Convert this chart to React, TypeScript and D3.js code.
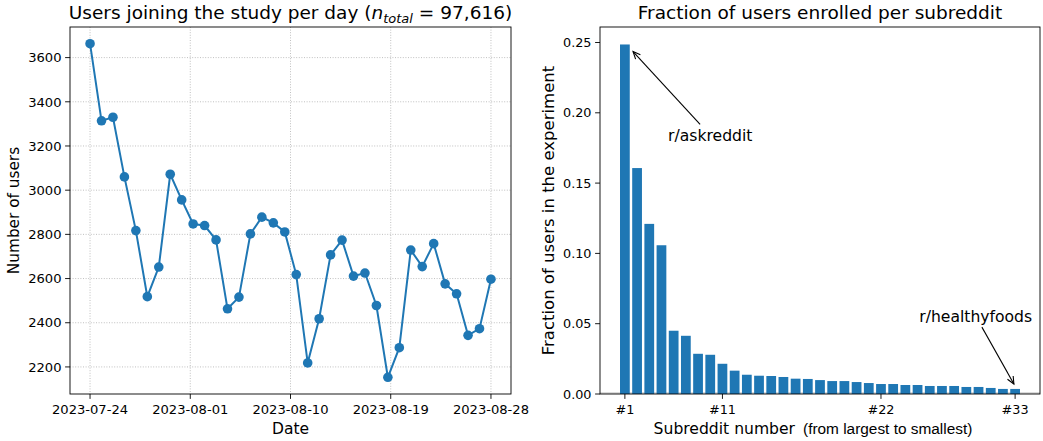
import React from "react";
import * as d3 from "d3";

// ---------------- data ----------------
const startDate = "2023-07-24";
const dailyUsers = [
  3663, 3314, 3330, 3060, 2817, 2518, 2652, 3072, 2956, 2847, 2840, 2775,
  2463, 2516, 2802, 2878, 2852, 2811, 2618, 2218, 2418, 2707, 2774, 2611,
  2625, 2478, 2153, 2287, 2729, 2654, 2758, 2576, 2531, 2343, 2373, 2597,
];
const totalUsersLabel = "97,616";
const userTicks = [2200, 2400, 2600, 2800, 3000, 3200, 3400, 3600];
const dateTickCount = 5;

const subredditFractions = [
  0.2486, 0.1607, 0.121, 0.1058, 0.045, 0.0414, 0.0286, 0.0279, 0.0215,
  0.0166, 0.0137, 0.013, 0.0128, 0.0121, 0.0109, 0.0107, 0.0099, 0.0092,
  0.0092, 0.0085, 0.0078, 0.0071, 0.0071, 0.0064, 0.0064, 0.0057, 0.0057,
  0.0057, 0.005, 0.005, 0.0043, 0.0036, 0.0036,
];
const subredditTickIndex = [0, 8, 21, 32];
const subredditTickLabels = ["#1", "#11", "#22", "#33"];
const fractionTicks = [0, 0.05, 0.1, 0.15, 0.2, 0.25];

const annotationLabels = ["r/askreddit", "r/healthyfoods"];
const annotationTextX = [7.0, 28.77];
const annotationTextY = [0.184, 0.0554];
const annotationTipX = [0.67, 31.9];
const annotationTipY = [0.2436, 0.0071];

// ---------------- layout ----------------
const W = 1043;
const H = 441;
const FONT = "DejaVu Sans, sans-serif";
const BLUE = "#1f77b4";

const LP = { left: 70, right: 511, top: 27, bottom: 394 };
const RP = { left: 600, right: 1040, top: 27, bottom: 394 };

function LeftChart() {
  const n = dailyUsers.length;
  const span = n - 1;
  const x = d3
    .scaleLinear()
    .domain([-0.05 * span, span * 1.05])
    .range([LP.left, LP.right]);
  const [mn, mx] = d3.extent(dailyUsers) as [number, number];
  const pad = (mx - mn) * 0.05;
  const y = d3
    .scaleLinear()
    .domain([mn - pad, mx + pad])
    .range([LP.bottom, LP.top]);

  const start = d3.utcParse("%Y-%m-%d")(startDate)!;
  const fmt = d3.utcFormat("%Y-%m-%d");
  const dateTicks = d3.range(dateTickCount).map((i) => (i * span) / (dateTickCount - 1));

  const line = d3
    .line<number>()
    .x((_, i) => x(i))
    .y((d) => y(d));

  return (
    <g>
      {dateTicks.map((t, i) => (
        <line
          key={"gx" + i}
          x1={x(t)}
          x2={x(t)}
          y1={LP.top}
          y2={LP.bottom}
          stroke="#b0b0b0"
          strokeWidth={0.8}
          strokeDasharray="1,1.6"
        />
      ))}
      {userTicks.map((t, i) => (
        <line
          key={"gy" + i}
          x1={LP.left}
          x2={LP.right}
          y1={y(t)}
          y2={y(t)}
          stroke="#b0b0b0"
          strokeWidth={0.8}
          strokeDasharray="1,1.6"
        />
      ))}
      <path d={line(dailyUsers) || ""} fill="none" stroke={BLUE} strokeWidth={2} />
      {dailyUsers.map((d, i) => (
        <circle key={"p" + i} cx={x(i)} cy={y(d)} r={4.8} fill={BLUE} />
      ))}
      <rect
        x={LP.left}
        y={LP.top}
        width={LP.right - LP.left}
        height={LP.bottom - LP.top}
        fill="none"
        stroke="#000"
        strokeWidth={0.9}
      />
      {dateTicks.map((t, i) => (
        <g key={"xt" + i}>
          <line x1={x(t)} x2={x(t)} y1={LP.bottom} y2={LP.bottom + 4.9} stroke="#000" strokeWidth={0.9} />
          <text
            x={x(t)}
            y={LP.bottom + 20}
            textAnchor="middle"
            fontFamily={FONT}
            fontSize={13.1}
            fill="#000"
          >
            {fmt(d3.utcDay.offset(start, Math.floor(t)))}
          </text>
        </g>
      ))}
      {userTicks.map((t, i) => (
        <g key={"yt" + i}>
          <line x1={LP.left - 4.9} x2={LP.left} y1={y(t)} y2={y(t)} stroke="#000" strokeWidth={0.9} />
          <text
            x={LP.left - 8.5}
            y={y(t)}
            dy="0.36em"
            textAnchor="end"
            fontFamily={FONT}
            fontSize={13.1}
            fill="#000"
          >
            {t}
          </text>
        </g>
      ))}
      <text x={(LP.left + LP.right) / 2} y={434} textAnchor="middle" fontFamily={FONT} fontSize={15.5}>
        Date
      </text>
      <text
        transform={`translate(19,${(LP.top + LP.bottom) / 2}) rotate(-90)`}
        textAnchor="middle"
        fontFamily={FONT}
        fontSize={15.3}
      >
        Number of users
      </text>
      <text x={(LP.left + LP.right) / 2} y={19} textAnchor="middle" fontFamily={FONT} fontSize={18.5}>
        Users joining the study per day (
        <tspan fontStyle="italic">n</tspan>
        <tspan fontStyle="italic" fontSize={13} dy={4}>
          total
        </tspan>
        <tspan dy={-4}> = {totalUsersLabel})</tspan>
      </text>
    </g>
  );
}

function arrowHead(tx: number, ty: number, sx: number, sy: number) {
  const ang = Math.atan2(sy - ty, sx - tx);
  const len = 8;
  const spread = 0.42;
  const p1 = [tx + len * Math.cos(ang + spread), ty + len * Math.sin(ang + spread)];
  const p2 = [tx + len * Math.cos(ang - spread), ty + len * Math.sin(ang - spread)];
  return `M${p1[0]},${p1[1]}L${tx},${ty}L${p2[0]},${p2[1]}`;
}

function RightChart() {
  const n = subredditFractions.length;
  const bw = 0.8;
  const lo = -bw / 2;
  const hi = n - 1 + bw / 2;
  const m = (hi - lo) * 0.05;
  const x = d3.scaleLinear().domain([lo - m, hi + m]).range([RP.left, RP.right]);
  const ymax = d3.max(subredditFractions)! * 1.05;
  const y = d3.scaleLinear().domain([0, ymax]).range([RP.bottom, RP.top]);
  const unit = x(1) - x(0);
  const fmt = d3.format(".2f");

  return (
    <g>
      <line x1={RP.left} x2={RP.right} y1={RP.bottom - 1} y2={RP.bottom - 1} stroke="#cfcfcf" strokeWidth={1.5} />
      {subredditFractions.map((v, i) => (
        <rect
          key={"b" + i}
          x={x(i - bw / 2)}
          y={y(v)}
          width={unit * bw}
          height={RP.bottom - y(v)}
          fill={BLUE}
        />
      ))}
      <rect
        x={RP.left}
        y={RP.top}
        width={RP.right - RP.left}
        height={RP.bottom - RP.top}
        fill="none"
        stroke="#000"
        strokeWidth={0.9}
      />
      {subredditTickIndex.map((t, i) => (
        <g key={"xt" + i}>
          <line x1={x(t)} x2={x(t)} y1={RP.bottom} y2={RP.bottom + 4.9} stroke="#000" strokeWidth={0.9} />
          <text x={x(t)} y={RP.bottom + 20} textAnchor="middle" fontFamily={FONT} fontSize={12.8}>
            {subredditTickLabels[i]}
          </text>
        </g>
      ))}
      {fractionTicks.map((t, i) => (
        <g key={"yt" + i}>
          <line x1={RP.left - 4.9} x2={RP.left} y1={y(t)} y2={y(t)} stroke="#000" strokeWidth={0.9} />
          <text
            x={RP.left - 8.5}
            y={y(t)}
            dy="0.36em"
            textAnchor="end"
            fontFamily={FONT}
            fontSize={12.8}
          >
            {fmt(t)}
          </text>
        </g>
      ))}
      {annotationLabels.map((lab, i) => {
        const cx = x(annotationTextX[i]);
        const cy = y(annotationTextY[i]);
        const tx = x(annotationTipX[i]);
        const ty = y(annotationTipY[i]);
        const hh = 11;
        const t = hh / Math.abs(ty - cy);
        const sx = cx + (tx - cx) * t;
        const sy = cy + (ty - cy) * t;
        return (
          <g key={"a" + i}>
            <text x={cx} y={cy} dy="0.36em" textAnchor="middle" fontFamily={FONT} fontSize={15.6}>
              {lab}
            </text>
            <line x1={sx} y1={sy} x2={tx} y2={ty} stroke="#000" strokeWidth={1.1} />
            <path d={arrowHead(tx, ty, sx, sy)} fill="none" stroke="#000" strokeWidth={1.1} />
          </g>
        );
      })}
      <text x={(RP.left + RP.right) / 2} y={19} textAnchor="middle" fontFamily={FONT} fontSize={18.5}>
        Fraction of users enrolled per subreddit
      </text>
      <text x={795} y={434} textAnchor="end" fontFamily={FONT} fontSize={15.6}>
        Subreddit number
      </text>
      <text x={803} y={434} textAnchor="start" fontFamily="Liberation Sans, Arial, sans-serif" fontSize={15.4}>
        (from largest to smallest)
      </text>
      <text
        transform={`translate(554,${(RP.top + RP.bottom) / 2}) rotate(-90)`}
        textAnchor="middle"
        fontFamily={FONT}
        fontSize={16.5}
      >
        Fraction of users in the experiment
      </text>
    </g>
  );
}

export default function App() {
  return (
    <svg
      width={W}
      height={H}
      viewBox={`0 0 ${W} ${H}`}
      style={{ position: "absolute", left: 0, top: 0, background: "#fff" }}
    >
      <rect width={W} height={H} fill="#fff" />
      <LeftChart />
      <RightChart />
    </svg>
  );
}
